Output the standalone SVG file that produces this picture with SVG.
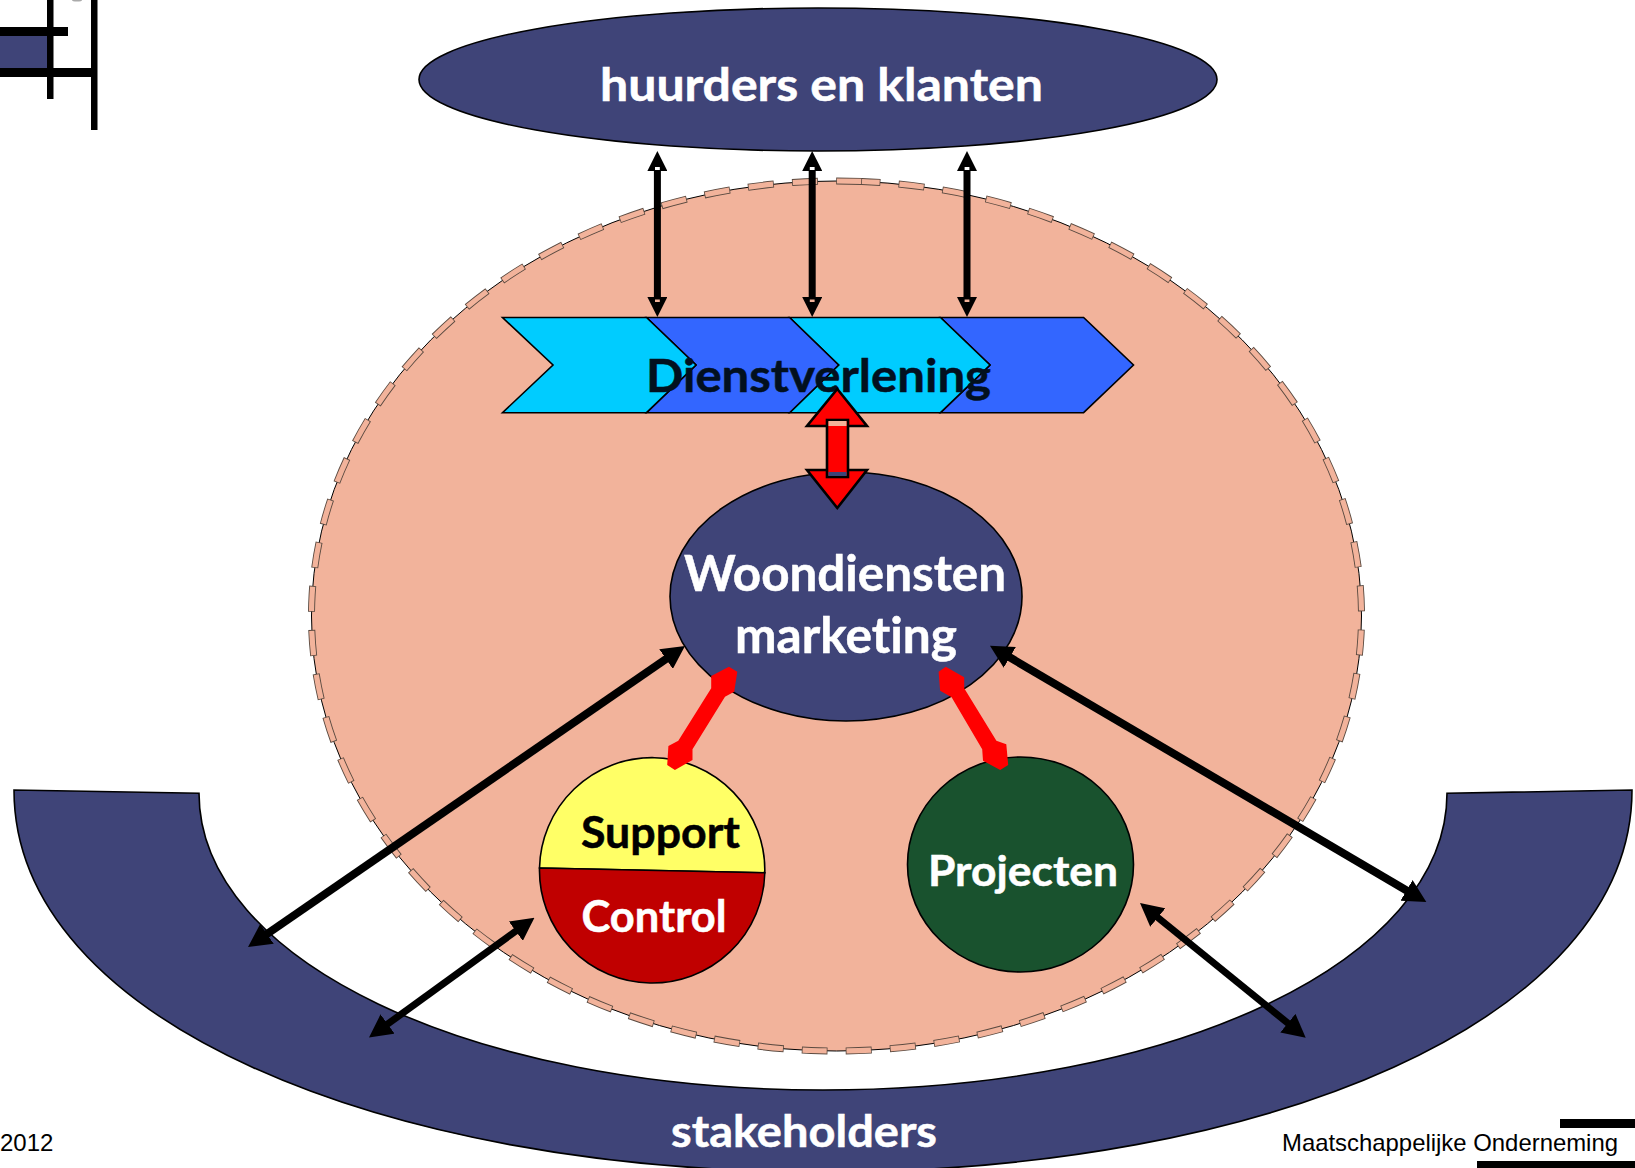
<svg xmlns="http://www.w3.org/2000/svg" width="1635" height="1168" viewBox="0 0 1635 1168">
<style>
.lbl{font-family:"Lato","Carlito","Liberation Sans",sans-serif;font-weight:700;font-variant-ligatures:none;stroke-width:.5}
.w{fill:#fff;stroke:#fff}.k{fill:#000;stroke:#000}.d{fill:#02101f;stroke:#02101f}
.foot{font-family:"Liberation Sans",Arial,sans-serif;font-size:24px;fill:#000}
.navy{fill:#3f4478;stroke:#000;stroke-width:1.6}
.o{stroke:#000;stroke-width:1.6}
.bar{fill:#000}
.blk{stroke:#000;fill:none}
.big{stroke-width:8;marker-start:url(#bh);marker-end:url(#bh)}
.mid{stroke-width:7;marker-start:url(#bh);marker-end:url(#bh)}
.small{stroke-width:7;marker-start:url(#sh);marker-end:url(#sh)}
.ring{fill:none}
</style>
<defs>
<marker id="bh" markerUnits="userSpaceOnUse" viewBox="0 0 23 24" markerWidth="23" markerHeight="24" refX="11" refY="12" orient="auto-start-reverse"><path d="M0 0L23 12L0 24Z" fill="#000"/></marker>
<marker id="sh" markerUnits="userSpaceOnUse" viewBox="0 0 20 20" markerWidth="20" markerHeight="20" refX="10" refY="10" orient="auto-start-reverse"><path d="M0 0L20 10L0 20Z" fill="#000"/></marker>
</defs>
<rect width="1635" height="1168" fill="#fff"/>
<g id="corner-top">
<rect x="0" y="35" width="47" height="33" fill="#3f4478"/>
<rect class="bar" x="47" y="0" width="6.5" height="99"/>
<rect class="bar" x="0" y="27" width="68" height="9"/>
<rect class="bar" x="0" y="68" width="97" height="9"/>
<rect class="bar" x="91" y="0" width="6.5" height="130"/>
<ellipse cx="77" cy="0" rx="5" ry="1.5" fill="#aaa"/>
</g>
<g id="corner-bottom">
<rect class="bar" x="1560" y="1119" width="75" height="9"/>
<rect class="bar" x="1477" y="1161" width="158" height="7"/>
</g>
<g id="stakeholders">
<path class="navy" d="M14 790C14 1020 380 1172 823 1172C1266 1172 1632 1020 1632 790L1447 793.3C1447 960 1176 1090 823 1090C470 1090 199 960 199 793.3Z"/>
<text class="lbl w" x="671" y="1147" font-size="44" textLength="266" lengthAdjust="spacingAndGlyphs">stakeholders</text>
</g>
<g id="organisatie">
<ellipse cx="836.5" cy="616" rx="525" ry="435" fill="#f2b39b" stroke="#000" stroke-width="1"/>
<path class="ring" stroke="#5a4a40" stroke-width="7" stroke-dasharray="26 18.17" d="M862 181.5A525 435 0 0 0 811 1050.5A525 435 0 0 0 862 181.5"/>
<path class="ring" stroke="#f2b39b" stroke-width="5.2" stroke-dasharray="24.4 19.77" stroke-dashoffset="-0.8" d="M862 181.5A525 435 0 0 0 811 1050.5A525 435 0 0 0 862 181.5"/>
</g>
<g id="huurders">
<ellipse class="navy" cx="818" cy="79.5" rx="399" ry="71.5"/>
<text class="lbl w" x="600" y="101" font-size="46" textLength="443" lengthAdjust="spacingAndGlyphs">huurders en klanten</text>
</g>
<g id="dienstverlening">
<path class="o" fill="#3366ff" d="M940.5 317.5H1083.6L1133.5 365L1083.6 412.7H940.5L990 365Z"/>
<path class="o" fill="#00ccff" d="M789.6 317.5H940.5L990 365L940.5 412.7H789.6L838.6 365Z"/>
<path class="o" fill="#3366ff" d="M646.5 317.5H789.6L838.6 365L789.6 412.7H646.5L696 365Z"/>
<path class="o" fill="#00ccff" d="M502.5 317.5H646.5L696 365L646.5 412.7H502.5L553 365Z"/>
<text class="lbl d" x="646" y="392" font-size="46" textLength="345" lengthAdjust="spacingAndGlyphs">Dienstverlening</text>
</g>
<g id="woondiensten">
<ellipse class="navy" cx="846" cy="596.5" rx="176" ry="124.5"/>
<text class="lbl w" x="684" y="591" font-size="50" textLength="322" lengthAdjust="spacingAndGlyphs">Woondiensten</text>
<text class="lbl w" x="735" y="653" font-size="50" textLength="222" lengthAdjust="spacingAndGlyphs">marketing</text>
</g>
<g id="support-control">
<path class="o" fill="#ffff66" d="M539.5 868A112 112 0 0 1 764.8 872.7Z"/>
<path class="o" fill="#c00000" d="M539.5 868L764.8 872.7A112 112 0 0 1 539.5 868Z"/>
<text class="lbl k" x="581" y="848" font-size="44" textLength="159" lengthAdjust="spacingAndGlyphs">Support</text>
<text class="lbl w" x="581.5" y="932" font-size="44" textLength="145" lengthAdjust="spacingAndGlyphs">Control</text>
</g>
<g id="projecten">
<ellipse cx="1020.5" cy="864.5" rx="113" ry="107.5" fill="#19522e" stroke="#000" stroke-width="1.6"/>
<text class="lbl w" x="928" y="886" font-size="42" textLength="190" lengthAdjust="spacingAndGlyphs">Projecten</text>
</g>
<g id="connectors">
<line class="blk small" x1="657.4" y1="161" x2="657.4" y2="307"/>
<line class="blk small" x1="812.2" y1="161" x2="812.2" y2="307"/>
<line class="blk small" x1="967" y1="161" x2="967" y2="307"/>
<rect x="655" y="167" width="4.8" height="3" fill="#fff"/><rect x="809.8" y="167" width="4.8" height="3" fill="#fff"/><rect x="964.6" y="167" width="4.8" height="3" fill="#fff"/>
<rect x="655" y="299.5" width="4.8" height="2.5" fill="#f2b39b"/><rect x="809.8" y="299.5" width="4.8" height="2.5" fill="#f2b39b"/><rect x="964.6" y="299.5" width="4.8" height="2.5" fill="#f2b39b"/>
<line class="blk big" x1="257.9" y1="940.2" x2="675.1" y2="652.8"/>
<line class="blk mid" x1="378.7" y1="1030.5" x2="524.7" y2="924.7"/>
<line class="blk big" x1="1000.3" y1="651.8" x2="1416" y2="896"/>
<line class="blk mid" x1="1149.3" y1="910.6" x2="1296.4" y2="1030.1"/>
<polygon fill="#f00" points="728.9,666.7 737.3,671.7 734.2,691.7 725,696.7 692.5,749.3 692.5,760 674.9,770 667.2,765 668.4,746 678.3,740.7 711.2,688.3 711.2,676"/>
<polygon fill="#f00" points="945.8,666.7 964.2,677.3 964.2,688.3 996.4,740.7 1006.3,744.3 1008.2,765 1000.2,770 983,760.7 982.2,749.3 951.6,697.3 940.1,690.7 938.6,671.7"/>
<path fill="#f00" stroke="#000" stroke-width="2.6" d="M837.3 389L867 426H807Z"/>
<path fill="#f00" stroke="#000" stroke-width="2.6" d="M837.3 508L867 470H807Z"/>
<rect x="827" y="420" width="21" height="57" fill="#f00" stroke="#000" stroke-width="2.6"/>
<rect x="828.5" y="421" width="18" height="5" fill="#f2b39b"/>
<rect x="828.5" y="472" width="18" height="4" fill="#3f4478"/>
</g>
<text class="foot" x="0" y="1151">2012</text>
<text class="foot" x="1282" y="1151" textLength="336" lengthAdjust="spacingAndGlyphs">Maatschappelijke Onderneming</text>
</svg>
